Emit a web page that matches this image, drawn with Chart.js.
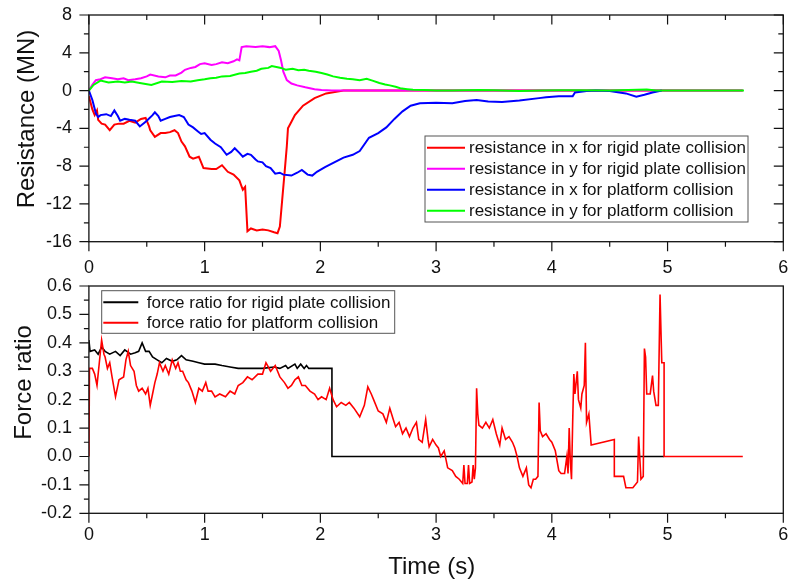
<!DOCTYPE html>
<html>
<head>
<meta charset="utf-8">
<script src="https://cdn.jsdelivr.net/npm/chart.js@4/dist/chart.umd.min.js"></script>
<style>
  html, body { margin: 0; padding: 0; background: #fff; }
  #wrap { position: relative; width: 788px; height: 581px; }
  canvas { position: absolute; left: 0; }
</style>
</head>
<body>
<div id="wrap">
  <canvas id="topChart" width="788" height="280" style="top:0"></canvas>
  <canvas id="bottomChart" width="788" height="319" style="top:262px"></canvas>
</div>
<script>
// top panel: resistance, [time (s), value (MN)]
const rxRigid = [[0,-0.6],[0.03,-2.0],[0.05,-2.6],[0.07,-2.1],[0.08,-3.1],[0.11,-3.5],[0.14,-3.6],[0.18,-4.2],[0.22,-3.6],[0.26,-3.5],[0.3,-3.5],[0.35,-3.2],[0.4,-3.4],[0.45,-3.0],[0.49,-2.9],[0.52,-3.8],[0.53,-4.2],[0.57,-4.9],[0.62,-4.5],[0.66,-4.5],[0.7,-4.4],[0.74,-4.2],[0.77,-4.5],[0.8,-5.4],[0.83,-5.9],[0.87,-7.0],[0.9,-7.2],[0.95,-7.0],[0.99,-8.2],[1.06,-8.3],[1.1,-8.3],[1.15,-7.9],[1.2,-8.6],[1.25,-8.9],[1.3,-9.5],[1.33,-10.5],[1.35,-10.2],[1.37,-14.9],[1.4,-14.6],[1.45,-14.8],[1.5,-14.7],[1.55,-14.8],[1.6,-15.0],[1.63,-15.1],[1.65,-14.4],[1.67,-11.6],[1.69,-8.8],[1.71,-5.9],[1.72,-4.0],[1.75,-3.3],[1.78,-2.6],[1.85,-1.6],[1.95,-0.8],[2.05,-0.3],[2.2,0],[5.65,0]];
const ryRigid = [[0,0],[0.03,0.6],[0.06,1.1],[0.1,1.2],[0.14,1.4],[0.2,1.3],[0.25,1.2],[0.3,1.3],[0.34,1.1],[0.4,1.2],[0.45,1.3],[0.5,1.5],[0.53,1.7],[0.6,1.5],[0.66,1.4],[0.7,1.6],[0.75,1.6],[0.8,1.9],[0.83,2.2],[0.88,2.4],[0.92,2.5],[0.96,2.8],[1.0,2.9],[1.06,2.7],[1.1,2.8],[1.15,3.0],[1.2,2.9],[1.25,3.1],[1.28,3.3],[1.3,3.2],[1.32,4.6],[1.36,4.7],[1.44,4.6],[1.5,4.7],[1.56,4.6],[1.61,4.7],[1.64,4.2],[1.66,3.2],[1.68,2.0],[1.71,1.1],[1.75,0.75],[1.8,0.55],[1.87,0.35],[1.95,0.15],[2.01,0.07],[2.1,0.02],[2.2,0],[5.65,0]];
const rxPlatform = [[0,0],[0.03,-1.0],[0.06,-2.4],[0.08,-2.8],[0.1,-2.6],[0.15,-2.5],[0.19,-2.7],[0.22,-2.1],[0.25,-2.7],[0.27,-3.2],[0.31,-3.0],[0.35,-3.1],[0.4,-3.2],[0.44,-3.8],[0.48,-3.4],[0.5,-3.2],[0.55,-2.6],[0.57,-2.3],[0.6,-2.7],[0.62,-3.2],[0.66,-3.0],[0.7,-2.8],[0.74,-2.7],[0.78,-2.6],[0.82,-2.8],[0.86,-3.6],[0.9,-3.9],[0.94,-4.3],[0.97,-4.6],[1.0,-4.5],[1.05,-5.2],[1.09,-5.6],[1.14,-6.0],[1.19,-6.8],[1.23,-6.5],[1.26,-6.1],[1.3,-6.6],[1.33,-7.0],[1.37,-6.7],[1.4,-6.8],[1.44,-7.3],[1.46,-7.5],[1.5,-7.6],[1.53,-8.0],[1.57,-8.2],[1.61,-8.8],[1.65,-8.7],[1.68,-8.9],[1.75,-9.0],[1.8,-8.7],[1.84,-8.4],[1.89,-8.9],[1.93,-9.0],[1.97,-8.6],[2.04,-8.1],[2.12,-7.6],[2.2,-7.1],[2.28,-6.8],[2.34,-6.4],[2.42,-5.0],[2.5,-4.5],[2.57,-3.9],[2.64,-3.0],[2.71,-2.2],[2.78,-1.6],[2.86,-1.35],[3.0,-1.3],[3.14,-1.35],[3.25,-1.1],[3.35,-1.0],[3.45,-1.15],[3.57,-1.2],[3.72,-1.05],[3.89,-0.8],[3.95,-0.7],[4.06,-0.6],[4.18,-0.6],[4.2,-0.2],[4.3,-0.05],[4.38,0.0],[4.5,-0.05],[4.64,-0.3],[4.73,-0.65],[4.8,-0.45],[4.87,-0.2],[4.95,0]];
const ryPlatform = [[0,0],[0.04,0.6],[0.1,1.05],[0.17,0.85],[0.25,0.95],[0.31,0.85],[0.37,0.95],[0.44,0.8],[0.49,0.7],[0.54,0.6],[0.63,0.95],[0.72,0.9],[0.8,1.0],[0.88,0.95],[0.94,1.1],[1.0,1.2],[1.05,1.3],[1.1,1.35],[1.15,1.5],[1.22,1.55],[1.3,1.8],[1.35,1.85],[1.4,2.0],[1.45,2.1],[1.49,2.3],[1.55,2.4],[1.58,2.6],[1.62,2.5],[1.66,2.4],[1.7,2.2],[1.76,2.3],[1.81,2.15],[1.86,2.2],[1.9,2.1],[1.96,2.0],[2.01,1.85],[2.06,1.7],[2.11,1.5],[2.17,1.35],[2.23,1.25],[2.28,1.2],[2.34,1.1],[2.4,1.25],[2.45,1.05],[2.51,0.8],[2.56,0.65],[2.6,0.55],[2.65,0.4],[2.69,0.25],[2.75,0.15],[2.8,0.08],[2.9,0.06],[3.0,0.0],[3.14,0.02],[3.37,0.06],[3.5,0.03],[3.72,-0.05],[3.9,0.02],[4.06,0.03],[4.24,0.04],[4.5,0.02],[4.82,0.1],[4.9,0.02],[5.2,0.0],[5.66,0.0]];

// bottom panel: force ratio, [time (s), ratio]
const ratioRigid = [[0,0.41],[0.01,0.37],[0.05,0.375],[0.08,0.36],[0.11,0.385],[0.14,0.37],[0.18,0.36],[0.23,0.37],[0.27,0.355],[0.31,0.375],[0.36,0.36],[0.4,0.365],[0.43,0.37],[0.46,0.4],[0.49,0.37],[0.52,0.37],[0.55,0.35],[0.59,0.34],[0.63,0.33],[0.67,0.345],[0.72,0.335],[0.76,0.34],[0.8,0.355],[0.84,0.34],[0.9,0.335],[0.95,0.33],[1.0,0.325],[1.09,0.325],[1.15,0.32],[1.22,0.315],[1.29,0.31],[1.4,0.31],[1.5,0.31],[1.6,0.315],[1.65,0.31],[1.7,0.32],[1.72,0.31],[1.78,0.325],[1.8,0.31],[1.83,0.325],[1.86,0.31],[1.88,0.32],[1.9,0.31],[2.1,0.31],[2.1,0],[4.97,0]];
const ratioPlatform = [[0,0],[0.005,0.31],[0.03,0.31],[0.05,0.29],[0.07,0.25],[0.09,0.33],[0.11,0.41],[0.13,0.36],[0.14,0.35],[0.16,0.31],[0.18,0.33],[0.2,0.28],[0.23,0.21],[0.26,0.27],[0.3,0.28],[0.32,0.34],[0.34,0.37],[0.36,0.32],[0.39,0.3],[0.41,0.25],[0.43,0.23],[0.46,0.24],[0.49,0.22],[0.51,0.24],[0.53,0.18],[0.55,0.22],[0.57,0.26],[0.59,0.29],[0.61,0.33],[0.64,0.3],[0.66,0.32],[0.69,0.29],[0.72,0.34],[0.75,0.31],[0.77,0.33],[0.79,0.3],[0.81,0.3],[0.84,0.27],[0.86,0.26],[0.89,0.23],[0.92,0.19],[0.95,0.24],[0.98,0.23],[1.01,0.26],[1.03,0.23],[1.06,0.23],[1.09,0.21],[1.13,0.22],[1.18,0.21],[1.22,0.23],[1.26,0.22],[1.29,0.25],[1.33,0.26],[1.37,0.28],[1.41,0.27],[1.46,0.29],[1.5,0.29],[1.53,0.33],[1.57,0.3],[1.61,0.32],[1.65,0.28],[1.69,0.26],[1.72,0.24],[1.75,0.25],[1.78,0.27],[1.81,0.28],[1.84,0.25],[1.87,0.25],[1.91,0.23],[1.95,0.22],[1.98,0.2],[2.01,0.21],[2.05,0.2],[2.08,0.24],[2.11,0.2],[2.14,0.175],[2.18,0.19],[2.22,0.18],[2.25,0.19],[2.29,0.17],[2.34,0.14],[2.38,0.18],[2.41,0.245],[2.44,0.22],[2.46,0.2],[2.5,0.16],[2.54,0.15],[2.57,0.12],[2.6,0.17],[2.63,0.13],[2.65,0.105],[2.68,0.12],[2.71,0.08],[2.74,0.1],[2.77,0.07],[2.8,0.1],[2.83,0.12],[2.85,0.06],[2.88,0.05],[2.91,0.13],[2.93,0.06],[2.94,0.034],[2.97,0.06],[3.0,0.04],[3.02,0.03],[3.04,0.0],[3.07,0.02],[3.1,-0.04],[3.14,-0.05],[3.17,-0.07],[3.2,-0.08],[3.23,-0.095],[3.24,-0.03],[3.25,-0.095],[3.27,-0.095],[3.28,-0.03],[3.29,-0.095],[3.31,-0.09],[3.32,-0.03],[3.33,-0.08],[3.34,-0.04],[3.35,0.24],[3.36,0.15],[3.37,0.11],[3.4,0.1],[3.43,0.12],[3.46,0.1],[3.49,0.13],[3.52,0.08],[3.55,0.04],[3.57,0.1],[3.6,0.06],[3.63,0.07],[3.66,0.05],[3.68,0.03],[3.7,0.0],[3.72,-0.04],[3.75,-0.07],[3.78,-0.04],[3.8,-0.1],[3.82,-0.11],[3.84,-0.08],[3.86,-0.08],[3.88,-0.07],[3.89,0.19],[3.9,0.09],[3.92,0.07],[3.95,0.08],[3.98,0.06],[4.0,0.05],[4.03,0.02],[4.06,-0.05],[4.08,-0.06],[4.11,-0.06],[4.13,0.0],[4.14,-0.06],[4.15,0.1],[4.16,-0.02],[4.17,-0.08],[4.18,0.12],[4.19,0.29],[4.2,0.22],[4.22,0.3],[4.23,0.2],[4.25,0.17],[4.26,0.22],[4.28,0.25],[4.29,0.4],[4.3,0.12],[4.32,0.15],[4.34,0.04],[4.54,0.06],[4.54,-0.07],[4.62,-0.07],[4.64,-0.11],[4.7,-0.11],[4.74,-0.09],[4.75,0.07],[4.77,-0.08],[4.79,-0.07],[4.8,0.38],[4.81,0.35],[4.82,0.22],[4.85,0.22],[4.87,0.285],[4.88,0.23],[4.9,0.18],[4.92,0.18],[4.935,0.57],[4.95,0.33],[4.97,0.33],[4.97,0],[5.65,0]];

const FONT = "'Liberation Sans', Arial, sans-serif";
const toXY = arr => arr.map(p => ({ x: p[0], y: p[1] }));

// box, major/minor ticks, legend and axis titles
const framePlugin = {
  id: 'frame',
  afterDraw(chart, args, o) {
    const { ctx, chartArea: a, scales: { x, y } } = chart;
    ctx.save();
    ctx.strokeStyle = '#111';
    ctx.lineWidth = 1.3;
    ctx.strokeRect(a.left, a.top, a.right - a.left, a.bottom - a.top);

    ctx.lineWidth = 1.2;
    ctx.beginPath();
    const nx = Math.round((x.max - x.min) / o.xMinor);
    const xEvery = Math.round(x.options.ticks.stepSize / o.xMinor);
    for (let i = 0; i <= nx; i++) {
      const px = x.getPixelForValue(x.min + i * o.xMinor);
      const len = i % xEvery === 0 ? 9.5 : 5;
      ctx.moveTo(px, a.bottom); ctx.lineTo(px, a.bottom + len);
      if (o.mirror) { ctx.moveTo(px, a.top); ctx.lineTo(px, a.top + len); }
    }
    const ny = Math.round((y.max - y.min) / o.yMinor);
    const yEvery = Math.round(y.options.ticks.stepSize / o.yMinor);
    for (let i = 0; i <= ny; i++) {
      const py = y.getPixelForValue(y.min + i * o.yMinor);
      const len = i % yEvery === 0 ? 9.5 : 5;
      ctx.moveTo(a.left, py); ctx.lineTo(a.left - len, py);
      if (o.mirror) { ctx.moveTo(a.right, py); ctx.lineTo(a.right - len, py); }
    }
    ctx.stroke();

    // legend
    const L = o.legend;
    ctx.fillStyle = '#fff';
    ctx.fillRect(L.left, L.top, L.width, L.height);
    ctx.strokeStyle = '#555';
    ctx.lineWidth = 1;
    ctx.strokeRect(L.left, L.top, L.width, L.height);
    ctx.font = L.fontSize + 'px ' + FONT;
    ctx.textBaseline = 'middle';
    ctx.textAlign = 'left';
    chart.data.datasets.forEach((ds, i) => {
      const cy = L.top + L.first + i * L.rowH;
      ctx.strokeStyle = ds.borderColor;
      ctx.lineWidth = 2;
      ctx.beginPath();
      ctx.moveTo(L.left + L.lineFrom, cy);
      ctx.lineTo(L.left + L.lineTo, cy);
      ctx.stroke();
      ctx.fillStyle = '#111';
      ctx.fillText(ds.label, L.left + L.textX, cy + 1);
    });

    // axis titles
    ctx.fillStyle = '#111';
    ctx.font = '24px ' + FONT;
    ctx.textAlign = 'center';
    ctx.textBaseline = 'middle';
    (o.titles || []).forEach(t => {
      ctx.save();
      ctx.translate(t.x, t.y);
      if (t.rotate) ctx.rotate(-Math.PI / 2);
      ctx.fillText(t.text, 0, 0);
      ctx.restore();
    });
    ctx.restore();
  }
};

function lineSet(label, data, color, width, order) {
  return {
    label, data: toXY(data), borderColor: color, backgroundColor: color,
    borderWidth: width, pointRadius: 0, tension: 0, fill: false, order
  };
}

// no overhang padding from the tick labels, so the plot box sits where layout.padding says
const noPad = s => { s.paddingTop = 0; s.paddingBottom = 0; s.paddingLeft = 0; s.paddingRight = 0; };

function axes(yMin, yMax, yStep, yFmt, xHeight, xPad) {
  return {
    x: {
      type: 'linear', min: 0, max: 6,
      grid: { display: false, drawTicks: false }, border: { display: false },
      ticks: { stepSize: 1, autoSkip: false, maxRotation: 0, padding: xPad,
               color: '#111', font: { size: 18, family: FONT } },
      afterFit: s => { s.height = xHeight; noPad(s); }
    },
    y: {
      min: yMin, max: yMax,
      grid: { display: false, drawTicks: false }, border: { display: false },
      ticks: { stepSize: yStep, autoSkip: false, padding: 17, callback: yFmt,
               color: '#111', font: { size: 18, family: FONT } },
      afterFit: s => { s.width = 88.9; noPad(s); }
    }
  };
}

new Chart(document.getElementById('topChart'), {
  type: 'line',
  data: {
    datasets: [
      lineSet('resistance in x for rigid plate collision', rxRigid, '#FF0000', 2, 3),
      lineSet('resistance in y for rigid plate collision', ryRigid, '#FF00FF', 2, 2),
      lineSet('resistance in x for platform collision', rxPlatform, '#0000FF', 2, 1),
      lineSet('resistance in y for platform collision', ryPlatform, '#00FF00', 2, 0)
    ]
  },
  options: {
    responsive: false, animation: false,
    layout: { padding: { top: 15, right: 4.7, left: 0, bottom: 0 } },
    scales: axes(-16, 8, 4, v => String(v), 38.3, 16),
    plugins: {
      legend: { display: false }, tooltip: { enabled: false },
      frame: {
        mirror: true, xMinor: 0.5, yMinor: 2,
        legend: { left: 425, top: 136, width: 323, height: 86, first: 11.7, rowH: 21,
                  lineFrom: 2, lineTo: 40, textX: 44, fontSize: 17 },
        titles: [{ text: 'Resistance (MN)', x: 27, y: 119, rotate: true }]
      }
    }
  },
  plugins: [framePlugin]
});

new Chart(document.getElementById('bottomChart'), {
  type: 'line',
  data: {
    datasets: [
      lineSet('force ratio for rigid plate collision', ratioRigid, '#000000', 1.6, 1),
      lineSet('force ratio for platform collision', ratioPlatform, '#FF0000', 1.6, 0)
    ]
  },
  options: {
    responsive: false, animation: false,
    layout: { padding: { top: 24, right: 4.7, left: 0, bottom: 0 } },
    scales: axes(-0.2, 0.6, 0.1, v => v.toFixed(1), 67.7, 11),
    plugins: {
      legend: { display: false }, tooltip: { enabled: false },
      frame: {
        mirror: false, xMinor: 0.5, yMinor: 0.05,
        legend: { left: 101.7, top: 28.7, width: 293, height: 42.6, first: 11.6, rowH: 20.4,
                  lineFrom: 1.6, lineTo: 36.6, textX: 45, fontSize: 17 },
        titles: [
          { text: 'Force ratio', x: 24, y: 120.5, rotate: true },
          { text: 'Time (s)', x: 431.7, y: 305 }
        ]
      }
    }
  },
  plugins: [framePlugin]
});
</script>
</body>
</html>
